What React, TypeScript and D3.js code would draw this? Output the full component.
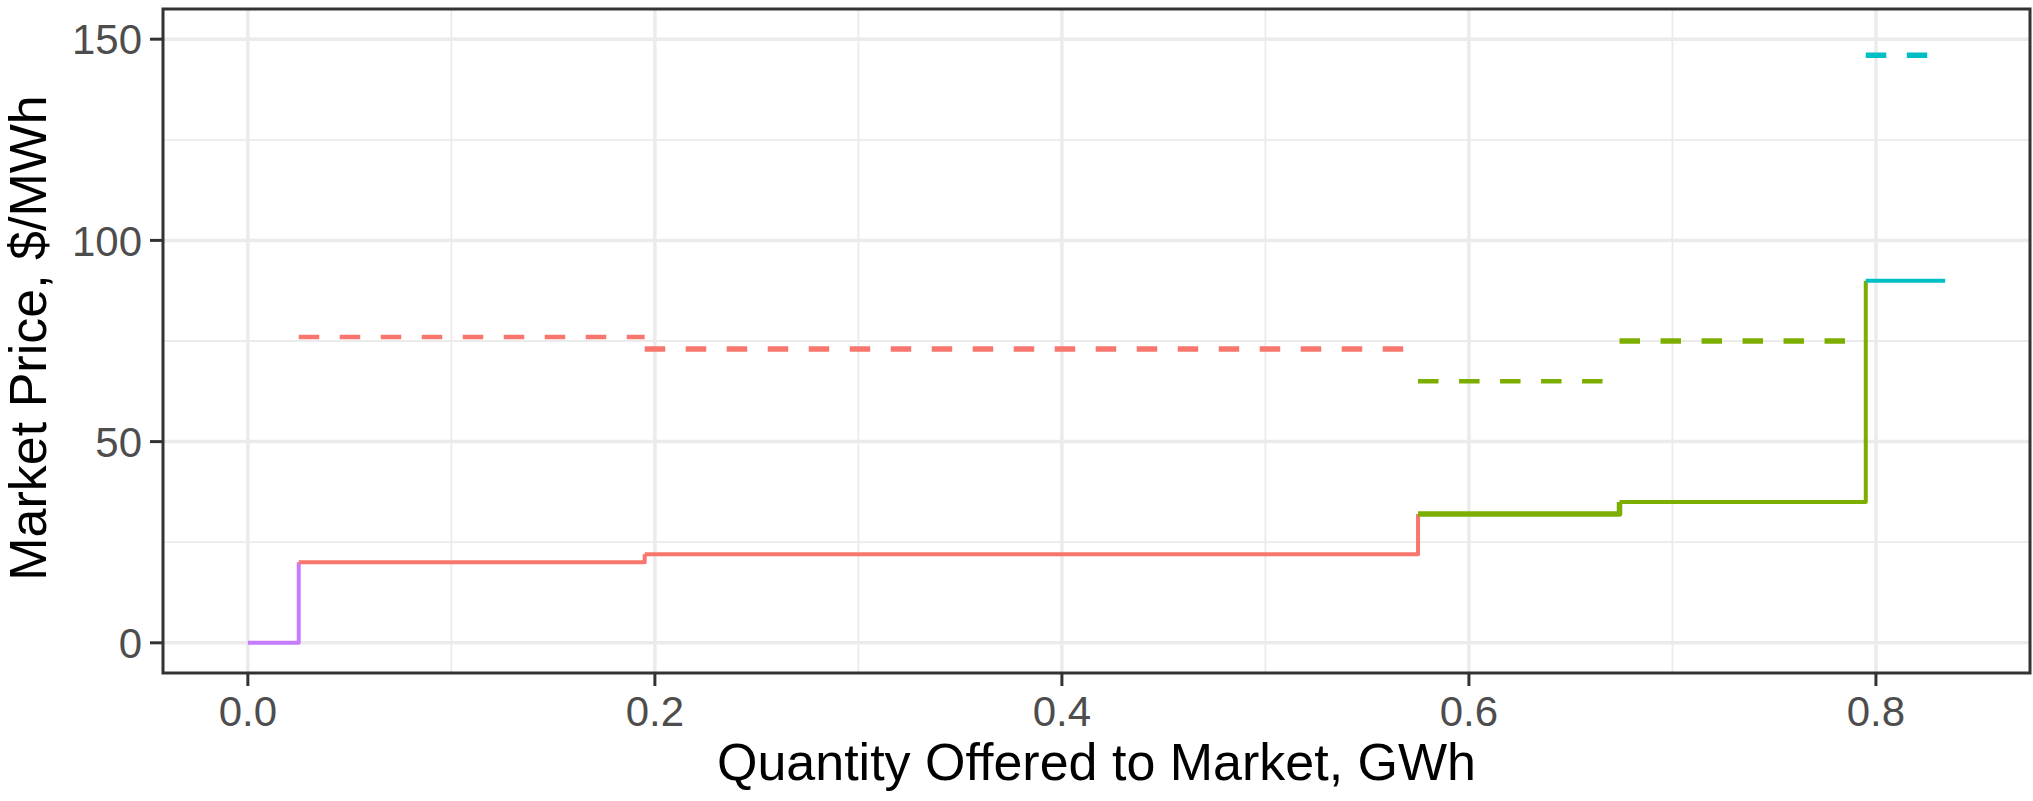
import * as d3 from 'd3';

// step boundaries (GWh) and the price level held on each interval ($/MWh)
const stepX = [0, 0.025, 0.195, 0.575, 0.674, 0.795, 0.834];
const stepPrice = [0, 20, 22, 32, 35, 90];
const stepGroup = ['a', 'b', 'b', 'c', 'c', 'd'];
// dashed level on each interval (null = none)
const costPrice = [null, 76, 73, 65, 75, 146];
const solidWidth = [4, 4, 4, 5.5, 4, 4];
const dashWidth = [0, 4.5, 5.5, 4.5, 5.5, 5.5];

const xTicks = [0, 0.2, 0.4, 0.6, 0.8];
const xMinor = [0.1, 0.3, 0.5, 0.7];
const yTicks = [0, 50, 100, 150];
const yMinor = [25, 75, 125];
const yLimits = [0, 150];

const groupColor: Record<string, string> = {
  a: '#C77CFF',
  b: '#F8766D',
  c: '#7CAE00',
  d: '#00BFC4',
};

const W = 2033;
const H = 801;
const panel = { left: 163, right: 2030, top: 9, bottom: 673 };
const font = '"Liberation Sans", Arial, Helvetica, sans-serif';

export default function App() {
  const xPad = 0.05 * (stepX[stepX.length - 1] - stepX[0]);
  const x = d3.scaleLinear()
    .domain([stepX[0] - xPad, stepX[stepX.length - 1] + xPad])
    .range([panel.left, panel.right]);
  const yPad = 0.05 * (yLimits[1] - yLimits[0]);
  const y = d3.scaleLinear()
    .domain([yLimits[0] - yPad, yLimits[1] + yPad])
    .range([panel.bottom, panel.top]);

  const line = d3.line<[number, number]>().x(d => x(d[0])).y(d => y(d[1]));

  const solid = stepPrice.map((p, i) => {
    const pts: [number, number][] = [[stepX[i], p], [stepX[i + 1], p]];
    if (i + 1 < stepPrice.length) pts.push([stepX[i + 1], stepPrice[i + 1]]);
    return { d: line(pts)!, color: groupColor[stepGroup[i]], w: solidWidth[i] };
  });

  const dashed = costPrice
    .map((p, i) => (p == null ? null : {
      d: line([[stepX[i], p], [stepX[i + 1], p]])!,
      color: groupColor[stepGroup[i]],
      w: dashWidth[i],
    }))
    .filter(Boolean) as { d: string; color: string; w: number }[];

  return (
    <div style={{ position: 'absolute', left: 0, top: 0 }}>
      <svg width={W} height={H} style={{ display: 'block', background: '#fff' }}>
        <rect x={panel.left} y={panel.top} width={panel.right - panel.left}
          height={panel.bottom - panel.top} fill="#fff" />
        <g stroke="#EBEBEB">
          {yMinor.map(v => (
            <line key={'ym' + v} x1={panel.left} x2={panel.right} y1={y(v)} y2={y(v)} strokeWidth={1.8} />
          ))}
          {xMinor.map(v => (
            <line key={'xm' + v} y1={panel.top} y2={panel.bottom} x1={x(v)} x2={x(v)} strokeWidth={1.8} />
          ))}
          {yTicks.map(v => (
            <line key={'y' + v} x1={panel.left} x2={panel.right} y1={y(v)} y2={y(v)} strokeWidth={3.5} />
          ))}
          {xTicks.map(v => (
            <line key={'x' + v} y1={panel.top} y2={panel.bottom} x1={x(v)} x2={x(v)} strokeWidth={3.5} />
          ))}
        </g>
        <g fill="none" strokeLinecap="butt">
          {dashed.map((s, i) => (
            <path key={'d' + i} d={s.d} stroke={s.color} strokeWidth={s.w} strokeDasharray="20.5,20.5" />
          ))}
          {solid.map((s, i) => (
            <path key={'s' + i} d={s.d} stroke={s.color} strokeWidth={s.w} strokeLinejoin="round" />
          ))}
        </g>
        <rect x={panel.left} y={panel.top} width={panel.right - panel.left}
          height={panel.bottom - panel.top} fill="none" stroke="#333333" strokeWidth={3} />
        <g stroke="#333333" strokeWidth={3}>
          {yTicks.map(v => (
            <line key={'yt' + v} x1={panel.left - 13} x2={panel.left} y1={y(v)} y2={y(v)} />
          ))}
          {xTicks.map(v => (
            <line key={'xt' + v} y1={panel.bottom} y2={panel.bottom + 13} x1={x(v)} x2={x(v)} />
          ))}
        </g>
        <g fontFamily={font} fontSize={42} fill="#4D4D4D">
          {yTicks.map(v => (
            <text key={'yl' + v} x={panel.left - 21} y={y(v)} dy="0.36em" textAnchor="end">{v}</text>
          ))}
          {xTicks.map(v => (
            <text key={'xl' + v} x={x(v)} y={726} textAnchor="middle">{d3.format('.1f')(v)}</text>
          ))}
        </g>
        <text x={(panel.left + panel.right) / 2} y={780} textAnchor="middle"
          fontFamily={font} fontSize={52} fill="#000">Quantity Offered to Market, GWh</text>
        <text transform={`translate(46,${(panel.top + panel.bottom) / 2 - 3}) rotate(-90)`} textAnchor="middle"
          fontFamily={font} fontSize={52} fill="#000">Market Price, $/MWh</text>
      </svg>
    </div>
  );
}
